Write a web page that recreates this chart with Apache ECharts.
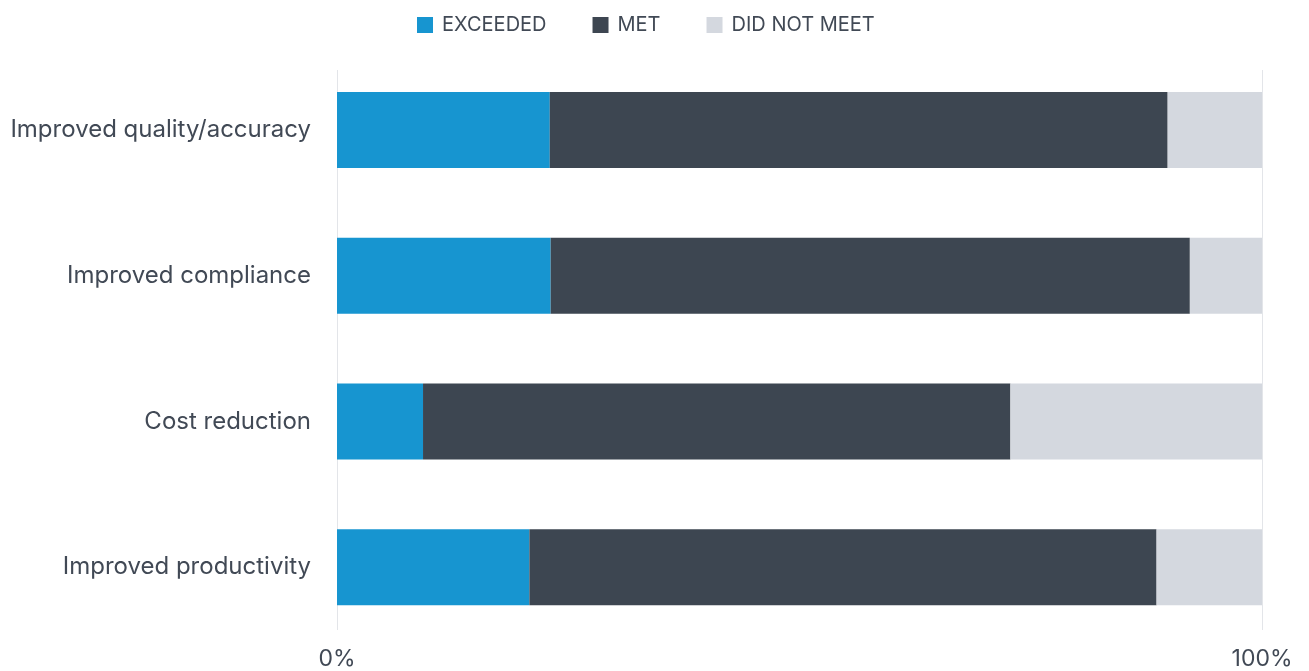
<!DOCTYPE html>
<html>
<head>
<meta charset="utf-8">
<script src="https://cdn.jsdelivr.net/npm/echarts@6/dist/echarts.min.js"></script>
<style>
  html, body { margin: 0; padding: 0; background: #fff; }
  #chart { width: 1309px; height: 671px; }
</style>
</head>
<body>
<div id="chart"></div>
<script>
const categories = ["Improved productivity", "Cost reduction", "Improved compliance", "Improved quality/accuracy"];
const exceeded = [20.8, 9.3, 23.1, 23.0];
const met = [67.8, 63.5, 69.1, 66.8];
const didNotMeet = [11.4, 27.2, 7.8, 10.2];
const tickLabels = ["0%", "100%"];

const textColor = '#414955';
const palette = ['#1795d0', '#3d4651', '#d4d8df'];
const fontFamily = 'Inter, "Noto Sans", sans-serif';

const chart = echarts.init(document.getElementById("chart"));

const barSeries = (name, data, i) => ({
    name: name,
    type: 'bar',
    stack: 'total',
    data: data,
    barWidth: 76,
    itemStyle: { color: palette[i] },
    xAxisIndex: 0,
    yAxisIndex: 0
});

const option = {
    animation: false,
    textStyle: { fontFamily: fontFamily, color: textColor },
    legend: {
        top: 10,
        left: 412,
        itemWidth: 16,
        itemHeight: 16,
        itemGap: 46,
        icon: 'rect',
        textStyle: { fontSize: 20, color: textColor, fontFamily: fontFamily, padding: [0, 0, 0, 4] },
        data: ['EXCEEDED', 'MET', 'DID NOT MEET']
    },
    grid: [
        { left: 337, right: 47, top: 57, height: 584 },
        { left: 337, right: 47, top: 70, height: 560 }
    ],
    xAxis: [
        {
            type: 'value', gridIndex: 0, min: 0, max: 100, interval: 100,
            axisLine: { show: false }, axisTick: { show: false },
            splitLine: { show: false },
            axisLabel: {
                fontSize: 23, color: textColor, margin: 8,
                formatter: v => tickLabels[v / 100]
            }
        },
        {
            type: 'value', gridIndex: 1, min: 0, max: 100, interval: 100,
            axisLine: { show: false }, axisTick: { show: false },
            axisLabel: { show: false },
            splitLine: { show: true, lineStyle: { color: '#e3e5e9', width: 1 } }
        }
    ],
    yAxis: [
        {
            type: 'category', gridIndex: 0, data: categories,
            axisLine: { show: false }, axisTick: { show: false },
            axisLabel: { fontSize: 24, color: textColor, margin: 26 }
        },
        {
            type: 'category', gridIndex: 1, data: categories, show: false
        }
    ],
    series: [
        barSeries('EXCEEDED', exceeded, 0),
        barSeries('MET', met, 1),
        barSeries('DID NOT MEET', didNotMeet, 2)
    ]
};

chart.setOption(option);
</script>
</body>
</html>
